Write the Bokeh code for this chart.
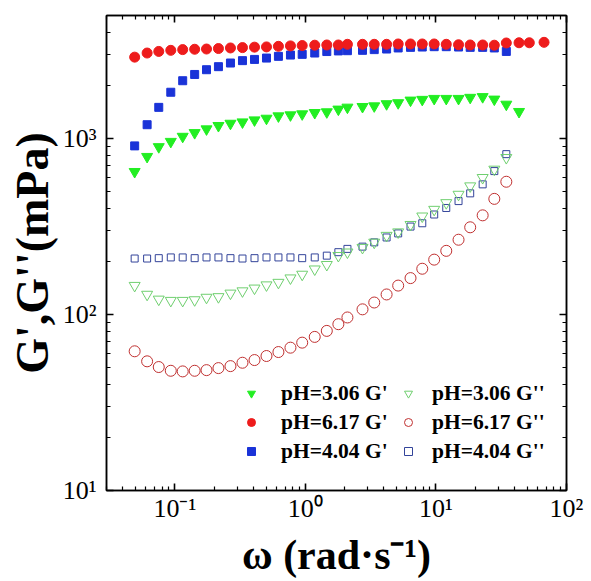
from bokeh.plotting import figure
from bokeh.models import (LogAxis, Legend, LegendItem, CustomJSTickFormatter,
                          FixedTicker, Range1d)
from bokeh.embed import file_html
from bokeh.resources import INLINE

# angular frequency (rad/s)
omega = [0.0493, 0.0614, 0.0754, 0.0932, 0.115, 0.142, 0.175, 0.216, 0.267, 0.330,
         0.408, 0.504, 0.622, 0.769, 0.946, 1.18, 1.46, 1.79, 2.10, 2.74,
         3.37, 4.19, 5.14, 6.39, 7.86, 9.70, 12.0, 14.9, 18.3, 22.8,
         28.0, 34.6, 43.3, 51.9, 67.3]

# storage modulus G' (mPa)
g1_ph617 = [2900, 3060, 3125, 3170, 3200, 3215, 3225, 3245, 3270, 3285,
            3305, 3315, 3340, 3360, 3375, 3390, 3400, 3400, 3430, 3430,
            3430, 3430, 3445, 3445, 3445, 3445, 3430, 3410, 3400, 3400,
            3390, 3490, 3500, 3500, 3520]
g1_ph404 = [908, 1198, 1503, 1832, 2130, 2312, 2460, 2560, 2685, 2770,
            2815, 2865, 2930, 2980, 3007, 3060, 3120, 3145, 3155, 3170,
            3200, 3225, 3270, 3295, 3310, 3325, 3325, 3310, 3295, 3295,
            3270, 3125]
g1_ph306 = [648, 789, 897, 961, 1027, 1078, 1132, 1183, 1218, 1240,
            1273, 1301, 1342, 1360, 1378, 1402, 1415, 1466, 1504, 1517,
            1530, 1573, 1594, 1649, 1665, 1686, 1686, 1686, 1710, 1726,
            1671, 1563, 1421]

# loss modulus G'' (mPa)
g2_ph306 = [146, 130, 122, 120, 120, 121, 125, 126, 132, 136,
            141, 147, 152, 161, 169, 181, 192, 216, 226, 240,
            257, 281, 294, 324, 362, 395, 431, 481, 537, 599,
            668, 778]
g2_ph617 = [61.8, 54.2, 50.3, 47.9, 47.5, 47.9, 48.3, 49.6, 50.9, 53.2,
            55.1, 58.1, 61.2, 64.8, 69.2, 74.6, 80.7, 88.1, 96.2, 107,
            117, 130, 146, 161, 182, 205, 230, 266, 313, 366,
            454, 568]
g2_ph404 = [208, 208, 209, 211, 211, 209, 211, 211, 209, 208,
            209, 211, 211, 211, 209, 211, 216, 226, 236, 243,
            257, 274, 289, 316, 330, 370, 403, 441, 488, 549,
            653, 815]

labels_g1 = ["pH=3.06 G'", "pH=6.17 G'", "pH=4.04 G'"]
labels_g2 = ["pH=3.06 G''", "pH=6.17 G''", "pH=4.04 G''"]

x_ticks = [0.1, 1, 10, 100]
x_tick_labels = ["10\u207b\u00b9", "10\u2070", "10\u00b9", "10\u00b2"]
x_minor = [0.03, 0.04, 0.05, 0.06, 0.07, 0.08, 0.09,
           0.2, 0.3, 0.4, 0.5, 0.6, 0.7, 0.8, 0.9,
           2, 3, 4, 5, 6, 7, 8, 9,
           20, 30, 40, 50, 60, 70, 80, 90]
y_ticks = [10, 100, 1000]
y_tick_labels = ["10\u00b9", "10\u00b2", "10\u00b3"]
y_minor = [20, 30, 40, 50, 60, 70, 80, 90,
           200, 300, 400, 500, 600, 700, 800, 900,
           2000, 3000, 4000, 5000]

x_title = "\u03c9 (rad\u00b7s\u207b\u00b9)"
y_title = "G',G''(mPa)"

SERIF = "Liberation Serif"

p = figure(x_axis_type="log", y_axis_type="log",
           x_range=Range1d(0.03, 100), y_range=Range1d(10, 5000),
           frame_width=460, frame_height=475,
           min_border_left=106, min_border_right=20,
           min_border_top=15, min_border_bottom=86,
           output_backend="svg", toolbar_location=None)
p.grid.visible = False
p.outline_line_color = "black"
p.outline_line_width = 1.5
p.background_fill_color = "white"
p.border_fill_color = "white"


def fmt(vals, labs):
    return CustomJSTickFormatter(args=dict(vals=vals, labs=labs), code="""
        for (let i = 0; i < vals.length; i++) {
            if (Math.abs(Math.log10(tick) - Math.log10(vals[i])) < 1e-6) return labs[i];
        }
        return '';
    """)


def style(ax, show):
    ax.axis_line_color = "black"
    ax.axis_line_width = 1.5
    ax.major_tick_in = 7
    ax.major_tick_out = 0
    ax.minor_tick_in = 4
    ax.minor_tick_out = 0
    ax.major_tick_line_color = "black"
    ax.major_tick_line_width = 1.6
    ax.minor_tick_line_color = "black"
    ax.minor_tick_line_width = 1.2
    if show:
        ax.major_label_text_font = SERIF
        ax.major_label_text_font_size = "26px"
        ax.major_label_text_color = "black"
        ax.axis_label_text_font = SERIF
        ax.axis_label_text_font_style = "bold"
        ax.axis_label_text_color = "black"
    else:
        ax.formatter = CustomJSTickFormatter(code="return '';")
        ax.major_label_standoff = 0


xa = p.xaxis[0]
xa.ticker = FixedTicker(ticks=x_ticks, minor_ticks=x_minor)
xa.formatter = fmt(x_ticks, x_tick_labels)
style(xa, True)
xa.axis_label = x_title
xa.axis_label_text_font_size = "42px"
xa.major_label_standoff = 3
xa.axis_label_standoff = 6

ya = p.yaxis[0]
ya.ticker = FixedTicker(ticks=y_ticks, minor_ticks=y_minor)
ya.formatter = fmt(y_ticks, y_tick_labels)
style(ya, True)
ya.axis_label = y_title
ya.axis_label_text_font_size = "46px"
ya.major_label_standoff = 10
ya.axis_label_standoff = 2

top = LogAxis(ticker=FixedTicker(ticks=x_ticks, minor_ticks=x_minor))
style(top, False)
p.add_layout(top, "above")
right = LogAxis(ticker=FixedTicker(ticks=y_ticks, minor_ticks=y_minor))
style(right, False)
p.add_layout(right, "right")

# G' (filled)
r_b1 = p.scatter(omega[:len(g1_ph404)], g1_ph404, marker="square", size=8,
                 fill_color="#1a33d8", line_color="#1a33d8")
r_r1 = p.scatter(omega[:len(g1_ph617)], g1_ph617, marker="circle", size=10,
                 fill_color="#ee1c1c", line_color="#ee1c1c")
r_g1 = p.scatter(omega[:len(g1_ph306)], g1_ph306, marker="inverted_triangle", size=11,
                 fill_color="#22ee22", line_color="#22ee22")
# G'' (open)
r_b2 = p.scatter(omega[:len(g2_ph404)], g2_ph404, marker="square", size=7,
                 fill_color=None, line_color="#33449a", line_width=1)
r_g2 = p.scatter(omega[:len(g2_ph306)], g2_ph306, marker="inverted_triangle", size=11,
                 fill_color=None, line_color="#6fcf6f", line_width=1)
r_r2 = p.scatter(omega[:len(g2_ph617)], g2_ph617, marker="circle", size=11,
                 fill_color=None, line_color="#c03030", line_width=1)


def make_legend(items, loc, standoff):
    lg = Legend(items=items, location=loc, orientation="vertical",
                padding=0, margin=0, spacing=1,
                glyph_width=20, glyph_height=28, label_height=28,
                label_standoff=standoff,
                label_text_font=SERIF, label_text_font_style="bold",
                label_text_font_size="21.5px", label_text_color="black",
                border_line_color=None, background_fill_alpha=0)
    return lg


leg1 = make_legend([LegendItem(label=labels_g1[0], renderers=[r_g1]),
                    LegendItem(label=labels_g1[1], renderers=[r_r1]),
                    LegendItem(label=labels_g1[2], renderers=[r_b1])],
                   (135, 25), 20)
leg2 = make_legend([LegendItem(label=labels_g2[0], renderers=[r_g2]),
                    LegendItem(label=labels_g2[1], renderers=[r_r2]),
                    LegendItem(label=labels_g2[2], renderers=[r_b2])],
                   (292, 25), 14)
p.add_layout(leg1, "center")
p.add_layout(leg2, "center")

open("out.html", "w").write(file_html(p, INLINE))
